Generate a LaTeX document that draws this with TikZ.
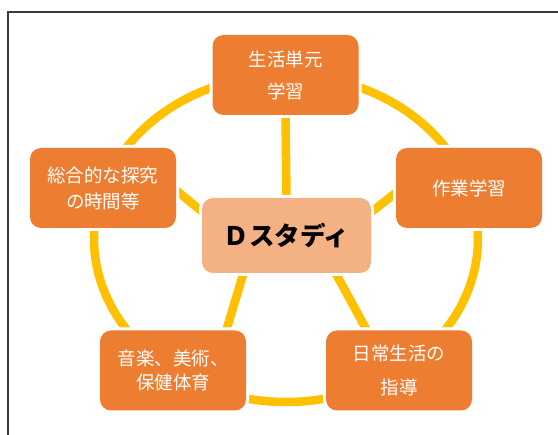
\documentclass[tikz,border=0pt]{standalone}
\usepackage{fontspec}
\newfontfamily\cjk{Noto Sans CJK JP}
\usetikzlibrary{calc,backgrounds}
\definecolor{nodeor}{HTML}{ED7D31}
\definecolor{centor}{HTML}{F4B183}
\definecolor{ringy}{HTML}{FFC000}
\definecolor{frameg}{HTML}{3A3A3A}
\begin{document}
\begin{tikzpicture}[x=1pt,y=-1pt,
  outer/.style={fill=nodeor, rounded corners=11pt, minimum width=146pt, minimum height=80pt,
    inner sep=0pt, align=center, text=white, preaction={draw=white,line width=6pt}},
  hub/.style={fill=centor, rounded corners=11pt, minimum width=169pt, minimum height=75pt,
    inner sep=0pt, text=black, font=\cjk\bfseries\fontsize{25.5}{30}\selectfont,
    preaction={draw=white,line width=6pt}},
  link/.style={draw=ringy, line width=8.5pt}]
\useasboundingbox (0,0) rectangle (558,435);
\draw[frameg, line width=1.6pt] (8.2,436) -- (8.2,12) -- (559,12);

\node[outer, font=\cjk\fontsize{18.5}{32}\selectfont] (t) at (285.5,75) {生活単元\\学習};
\node[outer, font=\cjk\fontsize{18.5}{26}\selectfont] (l) at (103,188) {総合的な探究\\の時間等};
\node[outer, font=\cjk\fontsize{18.5}{26}\selectfont] (r) at (469,188) {作業学習};
\node[outer, font=\cjk\fontsize{18.5}{24}\selectfont] (bl) at (173,370.5) {音楽、美術、\\保健体育};
\node[outer, font=\cjk\fontsize{18.5}{34}\selectfont] (br) at (399,370.5) {日常生活の\\指導};
\node[hub] (c) at (286.5,235.5) {Ｄスタディ};

\begin{scope}[on background layer]
  \fill[white] (0,0) rectangle (558,435);
  \draw[link] (286,238.5) ellipse [x radius=192, y radius=163.5];
  \draw[link] (c.north) -- (t.south);
  \draw[link] ($(c.north west)!0.18!(c.south west)$) -- ($(l.north east)!0.53!(l.south east)$);
  \draw[link] ($(c.north east)!0.19!(c.south east)$) -- ($(r.north west)!0.56!(r.south west)$);
  \draw[link] ($(c.south west)!0.246!(c.south east)$) -- ($(bl.north west)!0.864!(bl.north east)$);
  \draw[link] ($(c.south west)!0.79!(c.south east)$) -- ($(br.north west)!0.28!(br.north east)$);
\end{scope}
\end{tikzpicture}
\end{document}
